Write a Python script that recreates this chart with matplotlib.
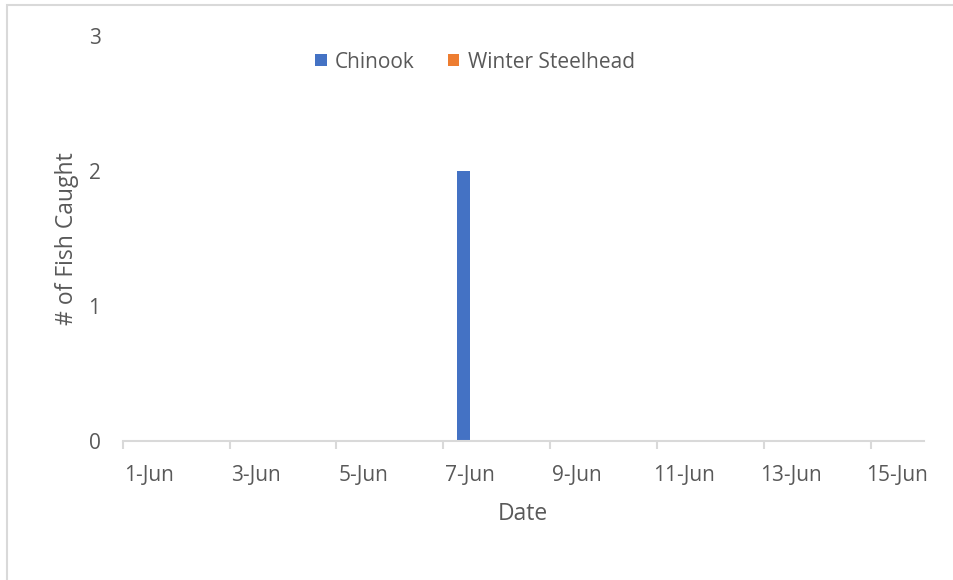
import numpy as np
import matplotlib.pyplot as plt
from matplotlib.patches import Rectangle

plt.rcParams['font.family'] = ['Open Sans', 'DejaVu Sans']

# data
dates = ['1-Jun', '2-Jun', '3-Jun', '4-Jun', '5-Jun', '6-Jun', '7-Jun', '8-Jun',
         '9-Jun', '10-Jun', '11-Jun', '12-Jun', '13-Jun', '14-Jun', '15-Jun']
chinook = [0, 0, 0, 0, 0, 0, 2, 0, 0, 0, 0, 0, 0, 0, 0]
steelhead = [0, 0, 0, 0, 0, 0, 0, 0, 0, 0, 0, 0, 0, 0, 0]

txt = '#595959'
grey = '#d9d9d9'

fig = plt.figure(figsize=(9.54, 5.8), dpi=100)
ax = fig.add_axes([122.7 / 954, 1 - 441 / 580, (924 - 122.7) / 954, (441 - 36) / 580])

x = np.arange(len(dates)) + 0.5
w = 0.236
ax.bar(x - w / 2, chinook, w, color='#4472C4', label='Chinook')
ax.bar(x + w / 2, steelhead, w, color='#ED7D31', label='Winter Steelhead')

ax.set_xlim(0, len(dates))
ax.set_ylim(0, 3)
ax.set_yticks([0, 1, 2, 3])
ax.tick_params(axis='y', length=0, pad=16, labelsize=15, labelcolor=txt)

# tick marks on category edges, labels centred on every other date
ax.set_xticks(np.arange(0, len(dates), 2))
ax.set_xticklabels([])
ax.tick_params(axis='x', which='major', length=6, width=1.5, color=grey)
ax.set_xticks(x[::2], minor=True)
ax.set_xticklabels(dates[::2], minor=True)
ax.tick_params(axis='x', which='minor', length=0, pad=17, labelsize=15, labelcolor=txt)

for s in ['top', 'right', 'left']:
    ax.spines[s].set_visible(False)
ax.spines['bottom'].set_color(grey)
ax.spines['bottom'].set_linewidth(1.5)

ax.set_xlabel('Date', fontsize=16.5, color=txt, labelpad=12)
ax.set_ylabel('# of Fish Caught', fontsize=16.5, color=txt, labelpad=7)

fig.legend(loc='center', bbox_to_anchor=(475 / 954, 1 - 62 / 580), ncol=2,
           frameon=False, fontsize=15, labelcolor=txt, handlelength=0.55,
           handleheight=0.55, handletextpad=0.4, columnspacing=1.6)

fig.patches.append(Rectangle((7 / 954, -0.1), 1.1, 1.1 - 5 / 580,
                             transform=fig.transFigure, fill=False,
                             edgecolor=grey, linewidth=1.5))

fig.savefig('out.png', dpi=100)
